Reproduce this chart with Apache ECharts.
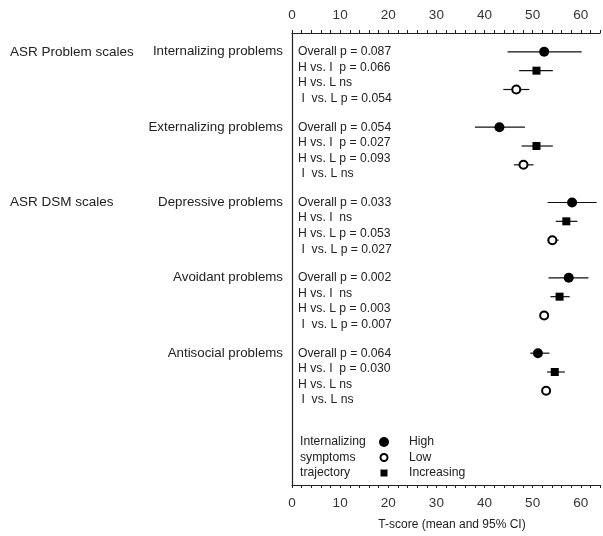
<!DOCTYPE html>
<html>
<head>
<meta charset="utf-8">
<script src="https://cdn.jsdelivr.net/npm/echarts@6/dist/echarts.min.js"></script>
<style>
html,body{margin:0;padding:0;background:#fff;}
#main{width:603px;height:536px;}
</style>
</head>
<body>
<div id="main"></div>
<script>
// ---- data ----
var categories = ['Internalizing problems', 'Externalizing problems', 'Depressive problems', 'Avoidant problems', 'Antisocial problems'];
var sectionLabels = ['ASR Problem scales', 'ASR DSM scales'];
var sectionStart = [0, 2];
var pTexts = [
  ['Overall p = 0.087', 'H vs. I  p = 0.066', 'H vs. L ns', ' I  vs. L p = 0.054'],
  ['Overall p = 0.054', 'H vs. I  p = 0.027', 'H vs. L p = 0.093', ' I  vs. L ns'],
  ['Overall p = 0.033', 'H vs. I  ns', 'H vs. L p = 0.053', ' I  vs. L p = 0.027'],
  ['Overall p = 0.002', 'H vs. I  ns', 'H vs. L p = 0.003', ' I  vs. L p = 0.007'],
  ['Overall p = 0.064', 'H vs. I  p = 0.030', 'H vs. L ns', ' I  vs. L ns']
];
var highMean = [52.4, 43.1, 58.2, 57.5, 51.1];
var highLow  = [44.8, 38.0, 53.1, 53.3, 49.5];
var highHigh = [60.2, 48.4, 63.3, 61.6, 53.5];
var incMean  = [50.8, 50.8, 57.0, 55.6, 54.6];
var incLow   = [47.2, 47.7, 54.8, 53.7, 53.0];
var incHigh  = [54.2, 54.2, 59.3, 57.7, 56.7];
var lowMean  = [46.6, 48.1, 54.1, 52.4, 52.8];
var lowLow   = [43.9, 46.1, 53.1, 51.8, 52.2];
var lowHigh  = [49.3, 50.2, 55.4, 53.0, 53.4];
var legendTitle = ['Internalizing', 'symptoms', 'trajectory'];
var legendNames = ['High', 'Low', 'Increasing'];
var xTicks = [0, 10, 20, 30, 40, 50, 60];
var axisTitle = 'T-score (mean and 95% CI)';

// ---- layout helpers ----
var FONT = '"Liberation Sans", Arial, sans-serif';
var TXT = '#222';
function rowOf(block, r) { return 1 + block * 4 + r; }
function pts(mean, r) { return mean.map(function (m, i) { return [m, rowOf(i, r)]; }); }
function bars(lo, hi, r) { return lo.map(function (l, i) { return [l, hi[i], rowOf(i, r)]; }); }

function errSeries(data) {
  return {
    type: 'custom', silent: true, z: 2,
    data: data,
    encode: { x: [0, 1], y: 2 },
    renderItem: function (params, api) {
      var a = api.coord([api.value(0), api.value(2)]);
      var b = api.coord([api.value(1), api.value(2)]);
      return { type: 'line', shape: { x1: a[0], y1: a[1], x2: b[0], y2: b[1] }, style: { stroke: '#111', lineWidth: 1.2 } };
    }
  };
}

var chart = echarts.init(document.getElementById('main'), null, { renderer: 'canvas' });

var xAxisBase = {
  type: 'value', min: 0, max: 64, interval: 2,
  axisLine: { show: true, onZero: false, lineStyle: { color: '#222', width: 1.2 } },
  axisTick: { show: true, length: 3, lineStyle: { color: '#222' } },
  splitLine: { show: false },
  axisLabel: {
    margin: 11, fontSize: 13.5, color: '#333', fontFamily: FONT,
    formatter: function (v) { return xTicks.indexOf(v) >= 0 ? String(v) : ''; }
  }
};

var option = {
  animation: false,
  backgroundColor: '#fff',
  grid: { left: 292, right: 1, top: 33, bottom: 48 },
  xAxis: [
    Object.assign({}, xAxisBase, {
      position: 'bottom',
      name: axisTitle, nameLocation: 'middle', nameGap: 34,
      nameTextStyle: { fontSize: 12, color: TXT, fontFamily: FONT, padding: [0, 0, 0, 12] }
    }),
    Object.assign({}, xAxisBase, { position: 'top' })
  ],
  yAxis: {
    type: 'value', min: 0, max: 24, inverse: true,
    axisLine: { show: true, onZero: false, lineStyle: { color: '#222', width: 1.2 } },
    axisTick: { show: false }, axisLabel: { show: false }, splitLine: { show: false }
  },
  series: [
    errSeries(bars(highLow, highHigh, 0)),
    errSeries(bars(incLow, incHigh, 1)),
    errSeries(bars(lowLow, lowHigh, 2)),
    { type: 'scatter', z: 3, symbol: 'circle', symbolSize: 10, data: pts(highMean, 0),
      itemStyle: { color: '#000', opacity: 1 } },
    { type: 'scatter', z: 3, symbol: 'rect', symbolSize: 8, data: pts(incMean, 1),
      itemStyle: { color: '#000', opacity: 1 } },
    { type: 'scatter', z: 3, symbol: 'circle', symbolSize: 8, data: pts(lowMean, 2),
      itemStyle: { color: '#fff', borderColor: '#000', borderWidth: 2, opacity: 1 } }
  ]
};
chart.setOption(option);

// ---- text annotations positioned through the chart's scales ----
var g = [];
var x0 = chart.convertToPixel({ gridIndex: 0 }, [0, 0])[0];
categories.forEach(function (c, i) {
  var y = chart.convertToPixel({ gridIndex: 0 }, [0, rowOf(i, 0)])[1];
  g.push({ type: 'text', x: x0 - 9, y: y, style: { text: c, font: '13.3px ' + FONT, fill: TXT, textAlign: 'right', textVerticalAlign: 'middle' } });
  pTexts[i].forEach(function (t, k) {
    g.push({ type: 'text', x: x0 + 6, y: y + k * 15.6, style: { text: t, font: '12.2px ' + FONT, fill: TXT, textAlign: 'left', textVerticalAlign: 'middle' } });
  });
});
sectionLabels.forEach(function (s, j) {
  var y = chart.convertToPixel({ gridIndex: 0 }, [0, rowOf(sectionStart[j], 0)])[1];
  g.push({ type: 'text', x: 10, y: y, style: { text: s, font: '13.5px ' + FONT, fill: TXT, textAlign: 'left', textVerticalAlign: 'middle' } });
});
// legend
var ly = [442, 457.5, 473];
legendTitle.forEach(function (t, k) {
  g.push({ type: 'text', x: x0 + 8, y: ly[k], style: { text: t, font: '12.2px ' + FONT, fill: TXT, textAlign: 'left', textVerticalAlign: 'middle' } });
  g.push({ type: 'text', x: x0 + 117, y: ly[k], style: { text: legendNames[k], font: '12.2px ' + FONT, fill: TXT, textAlign: 'left', textVerticalAlign: 'middle' } });
});
var mx = x0 + 92;
g.push({ type: 'circle', shape: { cx: mx, cy: ly[0], r: 5 }, style: { fill: '#000' } });
g.push({ type: 'circle', shape: { cx: mx, cy: ly[1], r: 3.5 }, style: { fill: '#fff', stroke: '#000', lineWidth: 2 } });
g.push({ type: 'rect', shape: { x: mx - 3.5, y: ly[2] - 3.5, width: 7, height: 7 }, style: { fill: '#000' } });
chart.setOption({ graphic: g });
</script>
</body>
</html>
